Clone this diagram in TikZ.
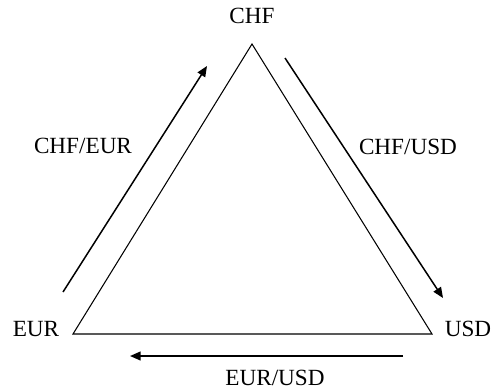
\documentclass[tikz,border=0pt]{standalone}
\usepackage{fontspec}
\setmainfont{Liberation Serif}
\usepackage{tikz}
\usetikzlibrary{arrows.meta}

\begin{document}
\begin{tikzpicture}[x=0.02cm, y=-0.02cm, font=\fontsize{13.2}{16}\selectfont]
\useasboundingbox (0,0) rectangle (493,390);
\tikzset{pair/.style={draw, -{Triangle[length=6pt,width=5pt]}, line width=0.85pt}}
% currencies
\node[inner sep=0] (chf) at (252,16) {CHF};
\node[inner sep=0] (eur) at (36,329) {EUR};
\node[inner sep=0] (usd) at (468,329) {USD};
% triangle
\coordinate (top) at (252,44);
\coordinate (left) at (73,334);
\coordinate (right) at (432,334);
\draw[line width=0.6pt] (top) -- (left) -- (right) -- cycle;
% rate arrows
\coordinate (a1) at (63,292);
\coordinate (a2) at (207,66);
\coordinate (b1) at (285,58);
\coordinate (b2) at (443,298);
\coordinate (c1) at (403,356);
\coordinate (c2) at (130,356);
\path[pair] (a1) -- (a2);
\path[pair] (b1) -- (b2);
\path[pair] (c1) -- (c2);
\node[inner sep=0] (chfeur) at (83,146) {CHF/EUR};
\node[inner sep=0] (chfusd) at (408,147) {CHF/USD};
\node[inner sep=0] (eurusd) at (275,378) {EUR/USD};
\end{tikzpicture}
\end{document}
